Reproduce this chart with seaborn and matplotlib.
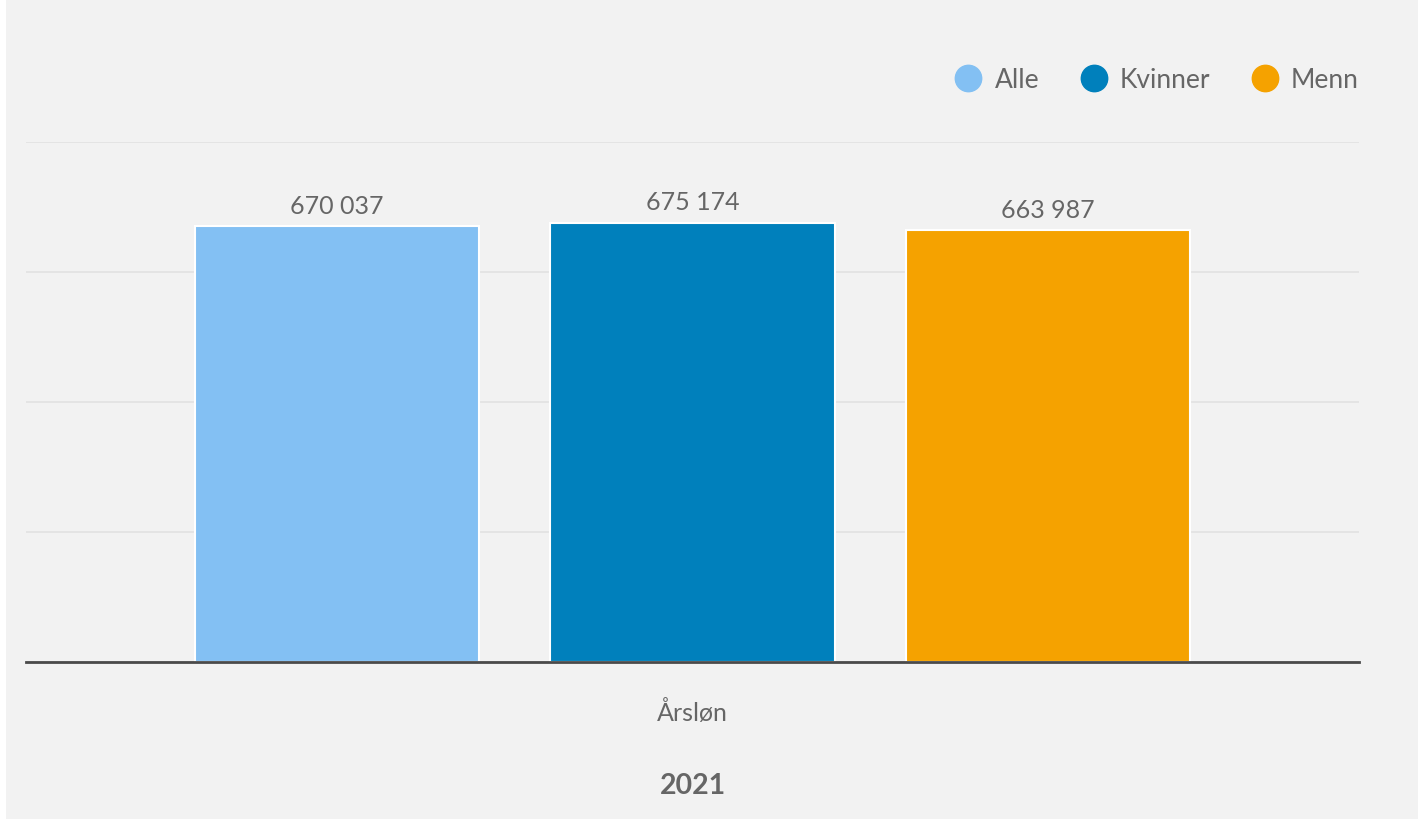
import matplotlib
matplotlib.use("Agg")
import matplotlib.pyplot as plt
from matplotlib.lines import Line2D
from matplotlib.patches import Rectangle
import seaborn as sns
import pandas as pd

# Average annual salary, 2021
categories = ["Årsløn"]
groups = ["Alle", "Kvinner", "Menn"]
values = [670037, 675174, 663987]
colors = ["#83c0f3", "#0080bc", "#f5a200"]
year_label = "2021"

df = pd.DataFrame({
    "kategori": categories * len(groups),
    "gruppe": groups,
    "verdi": values,
})

sns.set_theme(style="white")
plt.rcParams["font.family"] = ["Lato", "DejaVu Sans"]
text_color = "#666666"

W, H = 1418, 820
fig = plt.figure(figsize=(W / 100, H / 100), dpi=100, facecolor="white")
fig.patches.append(Rectangle((6 / W, 0), 1 - 6 / W, 1, transform=fig.transFigure,
                             facecolor="#f2f2f2", edgecolor="none", zorder=-10))

ax = fig.add_axes([26 / W, 1 - 663 / H, (1359 - 26) / W, (663 - 143) / H])
ax.set_facecolor("none")

sns.barplot(data=df, x="kategori", y="verdi", hue="gruppe", palette=colors,
            saturation=1, width=0.8, gap=0.2, edgecolor="white", linewidth=1.5,
            legend=False, ax=ax, zorder=3)

ax.set_ylim(0, 800000)
ax.set_xlim(-0.5, 0.5)
ax.set_yticks([0, 200000, 400000, 600000, 800000])
ax.set_yticklabels([])
ax.tick_params(axis="y", length=0)
ax.grid(axis="y", color="#e3e3e3", linewidth=1.3, zorder=0)
ax.set_axisbelow(True)
for side in ["top", "right", "left"]:
    ax.spines[side].set_visible(False)
ax.spines["bottom"].set_color("#4a4a4a")
ax.spines["bottom"].set_linewidth(2)
ax.spines["bottom"].set_zorder(5)

ax.tick_params(axis="x", length=0, pad=27, labelsize=18, labelcolor=text_color)
ax.set_ylabel("")
ax.set_xlabel(year_label, fontsize=20.5, fontweight="bold", color=text_color, labelpad=34)

for container in ax.containers:
    labels = [f"{v:,.0f}".replace(",", " ") for v in container.datavalues]
    ax.bar_label(container, labels=labels, padding=7, fontsize=18, color=text_color)

handles = [Line2D([0], [0], marker="o", linestyle="none", markersize=19,
                  markerfacecolor=c, markeredgecolor=c) for c in colors]
fig.legend(handles, groups, loc="center right", bbox_to_anchor=(1372 / W, 1 - 81 / H),
           ncol=3, frameon=False, fontsize=19, labelcolor=text_color, borderpad=0,
           handletextpad=0.4, columnspacing=1.45, handlelength=1.2)

fig.savefig("out.png", dpi=100, facecolor=fig.get_facecolor())
